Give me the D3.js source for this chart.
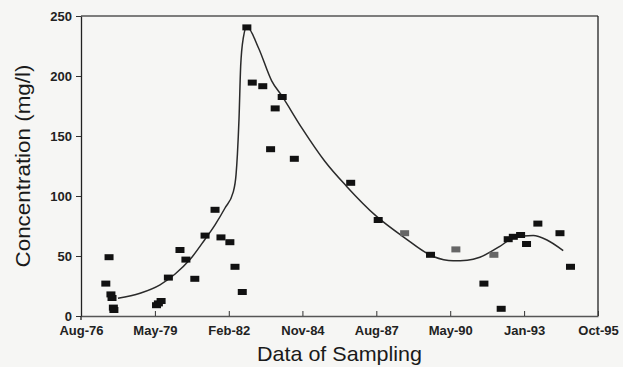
<!DOCTYPE html>
<html>
<head>
<meta charset="utf-8">
<script src="https://cdn.jsdelivr.net/npm/d3@7"></script>
<style>
  html, body { margin: 0; padding: 0; background: #f6f6f4; }
  svg { display: block; }
  text { font-family: "Liberation Sans", Arial, Helvetica, sans-serif; }
</style>
</head>
<body>
<svg id="chart" width="623" height="367"></svg>
<script>
// ---- data (x as decimal year, y in mg/l) ----
const sampleYears = [1977.50, 1977.62, 1977.69, 1977.73, 1977.78, 1977.80, 1979.38, 1979.45, 1979.55, 1979.82,
  1980.25, 1980.47, 1980.80, 1981.18, 1981.55, 1981.77, 1982.10, 1982.29, 1982.56, 1982.73,
  1982.93, 1983.32, 1983.61, 1983.78, 1984.04, 1984.49, 1986.58, 1987.60, 1989.54, 1991.52,
  1992.16, 1992.42, 1992.61, 1992.88, 1993.10, 1993.52, 1994.34, 1994.73];
const sampleConc = [27, 49, 18, 15, 7, 5, 9, 10.5, 12.5, 32,
  55, 47, 31, 67, 88.5, 65.5, 61.5, 41, 20, 240.5,
  194.5, 191.5, 139, 173, 182.5, 131, 111, 80, 51, 27,
  6, 64, 66, 67.5, 60, 77, 69, 41];
const greyYears = [1988.58, 1990.48, 1991.89];
const greyConc = [69, 55.5, 51];

const fitYears = [1977.95, 1978.77, 1979.51, 1980.07, 1980.62, 1981.18, 1981.55, 1981.92, 1982.22, 1982.33,
  1982.38, 1982.44, 1982.50, 1982.60, 1982.73, 1983.15, 1983.65, 1984.04, 1984.76, 1985.62,
  1986.43, 1987.54, 1988.53, 1989.64, 1990.38, 1990.90, 1991.37, 1992.11, 1992.61, 1993.35,
  1993.84, 1994.46];
const fitConc = [14.8, 19, 26, 35, 47, 64, 76, 90, 103, 118,
  135, 165, 208, 232, 241, 224, 196, 183, 157, 129,
  108, 83, 66, 49.6, 46, 46.5, 49, 58, 65, 67,
  63.5, 54.4];

const xTickYears = [1976.58, 1979.32, 1982.06, 1984.79, 1987.53, 1990.27, 1993.01, 1995.75];
const xTickLabels = ["Aug-76", "May-79", "Feb-82", "Nov-84", "Aug-87", "May-90", "Jan-93", "Oct-95"];
const yTicks = [0, 50, 100, 150, 200, 250];

// ---- layout ----
const svg = d3.select("#chart");
const L = 81, R = 598, T = 16, B = 316;

const x = d3.scaleLinear().domain([xTickYears[0], xTickYears[xTickYears.length - 1]]).range([L, R]);
const y = d3.scaleLinear().domain([0, 250]).range([B, T]);

// frame (top + right)
svg.append("line").attr("x1", L).attr("x2", R).attr("y1", T).attr("y2", T)
  .attr("stroke", "#555").attr("stroke-width", 1.3);
svg.append("line").attr("x1", R).attr("x2", R).attr("y1", T).attr("y2", B)
  .attr("stroke", "#222").attr("stroke-width", 1.3);

// x axis
const xAxis = d3.axisBottom(x).tickValues(xTickYears)
  .tickFormat((d, i) => xTickLabels[i]).tickSizeInner(-5).tickSizeOuter(0).tickPadding(10);
const gx = svg.append("g").attr("transform", `translate(0,${B})`).call(xAxis);
gx.select(".domain").attr("stroke", "#555").attr("stroke-width", 1.3);
gx.selectAll(".tick line").attr("stroke", "#333");
gx.selectAll(".tick text").attr("font-size", 13).attr("font-weight", "bold")
  .attr("fill", "#222").attr("font-family", "Liberation Sans, Arial, sans-serif");

// y axis
const yAxis = d3.axisLeft(y).tickValues(yTicks).tickSizeInner(5).tickSizeOuter(0).tickPadding(4);
const gy = svg.append("g").attr("transform", `translate(${L},0)`).call(yAxis);
gy.select(".domain").attr("stroke", "#222").attr("stroke-width", 1.3);
gy.selectAll(".tick line").attr("stroke", "#333");
gy.selectAll(".tick text").attr("font-size", 13).attr("font-weight", "bold")
  .attr("fill", "#222").attr("font-family", "Liberation Sans, Arial, sans-serif");
gy.append("line").attr("x1", 0).attr("x2", 0).attr("y1", B).attr("y2", B + 4)
  .attr("stroke", "#222").attr("stroke-width", 1.3);

// fitted curve
const fit = fitYears.map((d, i) => [d, fitConc[i]]);
svg.append("path").datum(fit)
  .attr("fill", "none").attr("stroke", "#2a2a2a").attr("stroke-width", 1.5)
  .attr("d", d3.line().x(d => x(d[0])).y(d => y(d[1])).curve(d3.curveMonotoneX));

// samples
const mw = 9, mh = 6;
svg.append("g").selectAll("rect").data(sampleYears.map((d, i) => [d, sampleConc[i]]))
  .join("rect")
  .attr("x", d => x(d[0]) - mw / 2).attr("y", d => y(d[1]) - mh / 2)
  .attr("width", mw).attr("height", mh).attr("fill", "#111");
svg.append("g").selectAll("rect").data(greyYears.map((d, i) => [d, greyConc[i]]))
  .join("rect")
  .attr("x", d => x(d[0]) - mw / 2).attr("y", d => y(d[1]) - mh / 2)
  .attr("width", mw).attr("height", mh).attr("fill", "#666");

// axis titles
svg.append("text").attr("x", (L + R) / 2 + 0).attr("y", 361)
  .attr("text-anchor", "middle").attr("font-size", 21).attr("fill", "#1a1a1a")
  .attr("textLength", 165).attr("lengthAdjust", "spacingAndGlyphs")
  .text("Data of Sampling");
svg.append("text").attr("transform", "translate(30,166) rotate(-90)")
  .attr("text-anchor", "middle").attr("font-size", 20).attr("fill", "#1a1a1a")
  .attr("textLength", 203).attr("lengthAdjust", "spacingAndGlyphs")
  .text("Concentration (mg/l)");
</script>
</body>
</html>
